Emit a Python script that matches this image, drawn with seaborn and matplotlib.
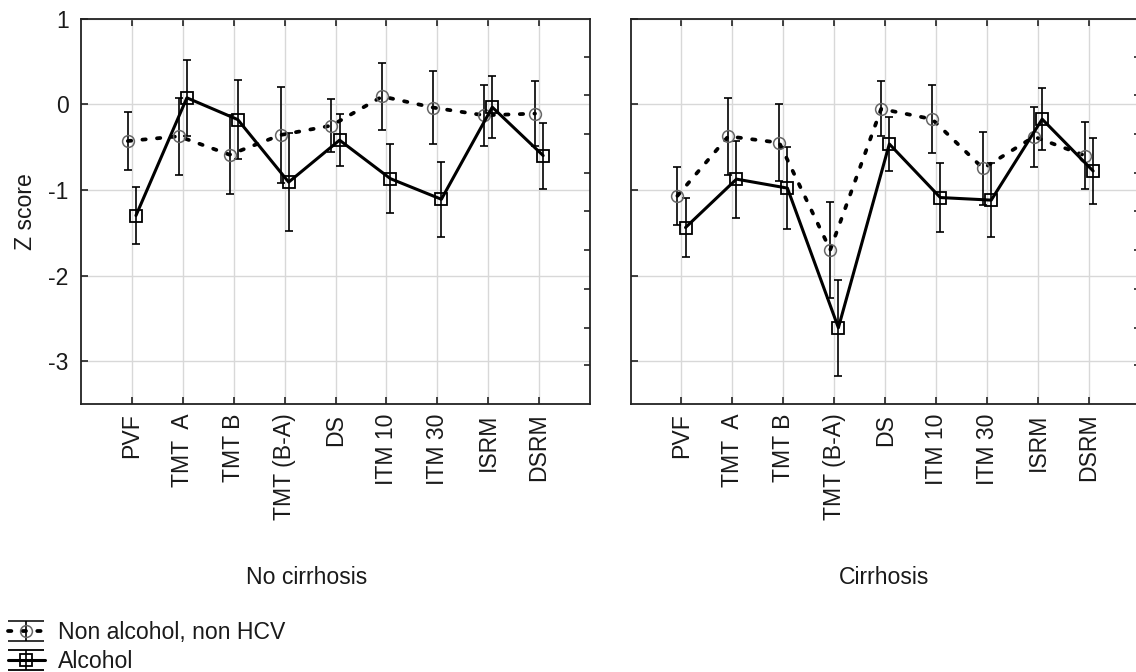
import numpy as np
import pandas as pd
import matplotlib
matplotlib.use("Agg")
import matplotlib.pyplot as plt
import seaborn as sns
from matplotlib.container import ErrorbarContainer
from matplotlib.legend_handler import HandlerErrorbar

# ---------------- data ----------------
categories = ["PVF", "TMT  A", "TMT B", "TMT (B-A)", "DS", "ITM 10", "ITM 30", "ISRM", "DSRM"]
panels = ["No cirrhosis", "Cirrhosis"]
series = ["Non alcohol, non HCV", "Alcohol"]

nocirr_nonalc = [-0.43, -0.375, -0.59, -0.36, -0.25, 0.09, -0.04, -0.13, -0.11]
nocirr_nonalc_err = [0.34, 0.45, 0.46, 0.56, 0.31, 0.39, 0.43, 0.355, 0.38]
nocirr_alc = [-1.30, 0.074, -0.18, -0.91, -0.42, -0.87, -1.11, -0.035, -0.60]
nocirr_alc_err = [0.335, 0.44, 0.46, 0.57, 0.30, 0.40, 0.44, 0.36, 0.385]

cirr_nonalc = [-1.07, -0.375, -0.45, -1.70, -0.055, -0.175, -0.75, -0.38, -0.60]
cirr_nonalc_err = [0.34, 0.45, 0.45, 0.56, 0.32, 0.40, 0.43, 0.35, 0.39]
cirr_alc = [-1.44, -0.875, -0.98, -2.61, -0.465, -1.09, -1.12, -0.175, -0.78]
cirr_alc_err = [0.34, 0.45, 0.48, 0.56, 0.31, 0.40, 0.43, 0.36, 0.39]

y_ticks = [1, 0, -1, -2, -3]
right_ticks = [0.553, 0.105, -0.35, -0.80, -1.25, -1.70, -2.16, -2.61, -3.05]

# ---------------- style ----------------
sns.set_theme(style="white")
plt.rcParams["font.family"] = ["Liberation Sans", "DejaVu Sans"]
plt.rcParams["axes.unicode_minus"] = False
TXT = "#1a1a1a"
FS = 16.6

fig = plt.figure(figsize=(11.36, 6.72), dpi=100)
W, H = 1136, 672
ax_bottom = (H - 404) / H
ax_height = (404 - 18.5) / H
axL = fig.add_axes([81 / W, ax_bottom, 509 / W, ax_height])
axR = fig.add_axes([630.5 / W, ax_bottom, 509.5 / W, ax_height])

data = {
    "No cirrhosis": [(nocirr_nonalc, nocirr_nonalc_err), (nocirr_alc, nocirr_alc_err)],
    "Cirrhosis": [(cirr_nonalc, cirr_nonalc_err), (cirr_alc, cirr_alc_err)],
}
offsets = [-0.08, 0.08]
x_idx = np.arange(len(categories))

line_kws = [
    dict(color="black", linestyle=(0, (0.9, 3.0)), linewidth=2.7, dash_capstyle="round",
         marker="o", markersize=8.5, markerfacecolor="none", markeredgecolor="#666666",
         markeredgewidth=1.1),
    dict(color="black", linestyle="-", linewidth=2.2,
         marker="s", markersize=8.5, markerfacecolor="none", markeredgecolor="black",
         markeredgewidth=1.3),
]

for ax, panel in zip([axL, axR], panels):
    for k, (vals, errs) in enumerate(data[panel]):
        df = pd.DataFrame({"pos": x_idx + offsets[k], "z": vals, "err": errs})
        ax.errorbar(df["pos"], df["z"], yerr=df["err"], fmt="none", ecolor="black",
                    elinewidth=1.2, capsize=3.2, capthick=1.2, zorder=3)
        sns.lineplot(data=df, x="pos", y="z", ax=ax, sort=False, legend=False,
                     zorder=4, **line_kws[k])

    ax.set_xlim(-1, 9)
    ax.set_ylim(-3.5, 1)
    ax.set_xticks(x_idx)
    ax.set_xticklabels(categories, rotation=90, fontsize=FS, color=TXT)
    ax.set_yticks(y_ticks)
    ax.grid(True, color="#d8d8d8", linewidth=1.0)
    ax.set_axisbelow(True)
    for s in ax.spines.values():
        s.set_visible(True)
        s.set_color("#222222")
        s.set_linewidth(1.3)
    ax.tick_params(axis="both", which="major", direction="in", length=5, width=1.2,
                   color="#222222", top=True, bottom=True, left=True, right=False,
                   labelsize=FS, labelcolor=TXT)
    ax.tick_params(axis="x", pad=7)
    ax.set_xlabel("")
    ax.set_ylabel("")

    tw = ax.twinx()
    tw.set_ylim(-3.5, 1)
    tw.set_yticks(right_ticks)
    tw.set_yticklabels([])
    tw.tick_params(axis="y", direction="in", length=4.5, width=1.2, color="#222222")
    tw.grid(False)
    for s in tw.spines.values():
        s.set_visible(False)

axL.tick_params(axis="y", pad=9)
axR.set_yticklabels([])
axL.set_ylabel("Z score", fontsize=FS, color=TXT)
axL.yaxis.set_label_coords(-0.086, 0.5)

fig.text(307 / W, 1 - 578 / H, "No cirrhosis", ha="center", va="center", fontsize=FS, color=TXT)
fig.text(884 / W, 1 - 578 / H, "Cirrhosis", ha="center", va="center", fontsize=FS, color=TXT)

# legend proxies (no data drawn)
proxies = []
for k in range(2):
    kw = dict(line_kws[k])
    c = axL.errorbar([np.nan], [np.nan], yerr=[np.nan], ecolor="black", elinewidth=1.2,
                     capsize=13, capthick=1.2, **kw)
    proxies.append(c)

fig.legend(proxies, series, loc="upper left", bbox_to_anchor=(8 / W, 1 - 621 / H),
           frameon=False, borderpad=0, borderaxespad=0, handlelength=1.6,
           handletextpad=0.55, labelspacing=0.26, fontsize=FS, numpoints=1,
           labelcolor=TXT,
           handler_map={ErrorbarContainer: HandlerErrorbar(yerr_size=0.42, numpoints=1)})

fig.savefig("out.png", dpi=100)
